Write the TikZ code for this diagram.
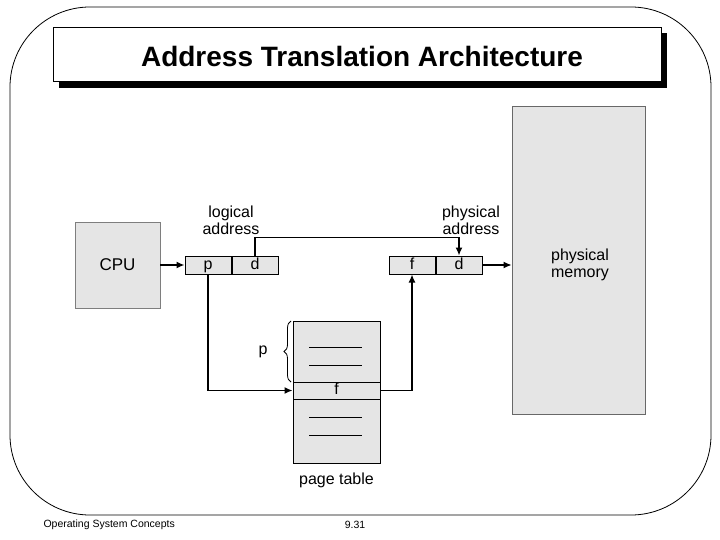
\documentclass[tikz,border=0pt]{standalone}
\usepackage{fontspec}
\setmainfont{Liberation Sans}
\usetikzlibrary{arrows.meta, positioning, decorations.pathreplacing}
\definecolor{LGr}{RGB}{229,229,229}
\definecolor{DG}{RGB}{40,40,40}

\begin{document}
\begin{tikzpicture}[x=1pt, y=-1pt,
  gbox/.style={draw=DG, fill=LGr, line width=0.8pt,
               minimum width=#1, inner sep=0pt},
  cell/.style={draw=black, fill=LGr, line width=1pt,
               minimum width=46, minimum height=18, inner sep=0pt,
               text height=10pt, text depth=2pt,
               font=\fontsize{16}{17}\selectfont},
  lbl/.style={align=center, font=\fontsize{16}{17}\selectfont},
  arr/.style={-{Latex[length=8pt, width=7pt]}, line width=1.4pt, draw=black}
]
\useasboundingbox (0,0) rectangle (720,540);

% slide frame
\draw[line width=0.8pt, rounded corners=80pt] (10,7) rectangle (711,515);

% title with shadow
\fill[black] (59,33) rectangle (667,88);
\node[draw=black, fill=white, line width=0.8pt, minimum width=608, minimum height=54,
      inner sep=0pt, font=\fontsize{28}{32}\selectfont\bfseries] (title) at (357,54) {};
\node[font=\fontsize{28}{32}\selectfont\bfseries] (ttxt) at (362,56)
  {Address Translation Architecture};

% physical memory
\node[gbox=133, minimum height=308, draw=DG!70] (mem) at (578.5,260) {};
\node[lbl] (memtxt) at (580,265) {physical\\memory};

% cpu
\node[gbox=85, minimum height=86, draw=DG!60, font=\fontsize{17}{18}\selectfont] (cpu) at (117.5,265) {CPU};

% logical address
\node[cell] (lp) at (208,265) {p};
\node[cell, right=0pt of lp] (ld) {d};
\node[lbl] (ltxt) at (231,220) {logical\\address};

% physical address
\node[cell] (pf) at (412,265) {f};
\node[cell, right=0pt of pf] (pd) {d};
\node[lbl] (ptxt) at (471,220) {physical\\address};

% page table
\node[gbox=87, minimum height=142, line width=1pt, draw=black] (pt) at (336.5,392) {};
\node[gbox=87, minimum height=17, line width=1pt, draw=black,
      text height=10pt, text depth=2pt,
      font=\fontsize{16}{17}\selectfont] (frow) at (336.5,390.5) {f};
\foreach \y in {347, 365, 417, 435} {
  \draw[line width=1pt] (309,\y) -- (362,\y);
}
\node[lbl] (pttxt) at (336.5,480) {page table};

% brace p
\draw[line width=0.8pt, decorate, decoration={brace, amplitude=7pt}]
  (291,382) -- (291,321);
\node[lbl] (ptag) at (263,352) {p};

% connectors
\draw[arr] (cpu) -- (lp);
\draw[arr] (ld.north) -- ++(0,-18) -| (pd.north);
\draw[arr] (pd.east) -- (pd.east -| mem.west);
\draw[arr] (lp.south) |- (frow.west);
\draw[arr] (frow.east) -| (pf.south);

% footer
\node[anchor=west, font=\fontsize{10.5}{12}\selectfont] (foot) at (40,525) {Operating System Concepts};
\node[font=\fontsize{10.5}{12}\selectfont] (pgno) at (355,525) {9.31};
\end{tikzpicture}
\end{document}
